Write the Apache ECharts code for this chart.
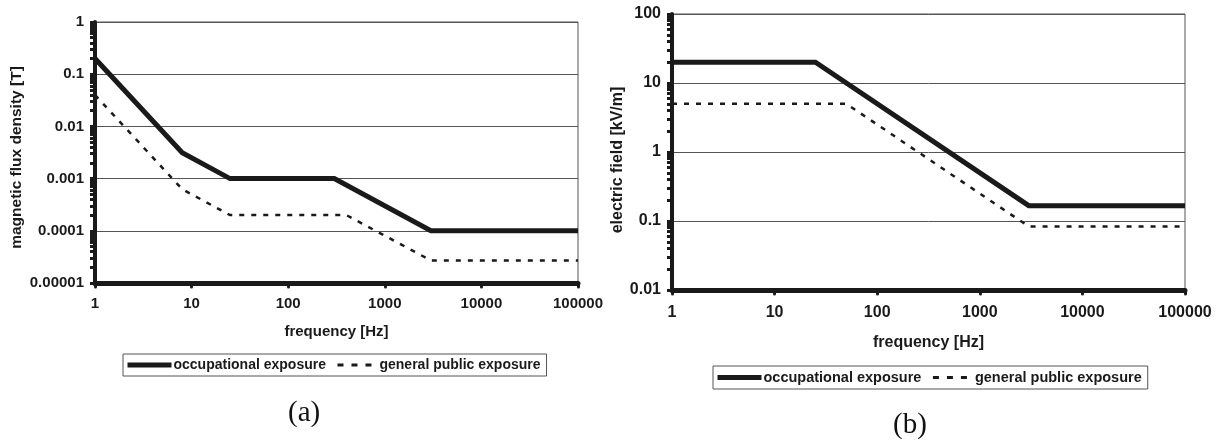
<!DOCTYPE html>
<html>
<head>
<meta charset="utf-8">
<script src="https://cdn.jsdelivr.net/npm/echarts@6/dist/echarts.min.js"></script>
<style>
html, body { margin: 0; padding: 0; background: #fff; }
#chart { width: 1217px; height: 441px; }
</style>
</head>
<body>
<div id="chart"></div>
<script>
// Tick labels
const frequencyTicks = ['1', '10', '100', '1000', '10000', '100000'];
const fluxTicks = ['0.00001', '0.0001', '0.001', '0.01', '0.1', '1'];
const fieldTicks = ['0.01', '0.1', '1', '10', '100'];

// (a) magnetic flux density [T] versus frequency [Hz]
const fluxOccFreq = [1, 8, 25, 300, 3000, 100000];
const fluxOccVal = [0.2, 0.003125, 0.001, 0.001, 0.0001, 0.0001];
const fluxPubFreq = [1, 8, 25, 400, 3000, 100000];
const fluxPubVal = [0.04, 0.000625, 0.0002, 0.0002, 0.000027, 0.000027];

// (b) electric field [kV/m] versus frequency [Hz]
const fieldOccFreq = [1, 25, 3000, 100000];
const fieldOccVal = [20, 20, 0.1667, 0.1667];
const fieldPubFreq = [1, 50, 3000, 100000];
const fieldPubVal = [5, 5, 0.0833, 0.0833];

const seriesNames = ['occupational exposure', 'general public exposure'];

const zip = (xs, ys) => xs.map((x, i) => [x, ys[i]]);
const labelFor = labels => v => {
  const hit = labels.find(l => Math.abs(Math.log10(Number(l)) - Math.log10(v)) < 1e-6);
  return hit === undefined ? '' : hit;
};

const FONT = 'Liberation Sans, Arial, sans-serif';
const INK = '#1a1a1a';
const SOLID = { color: INK, width: 5, cap: 'butt', join: 'miter' };
const DASHED = { color: INK, width: 2.5, type: [5, 7] };

function xAxisFor(grid, fontSize, margin, nameGap) {
  return {
    type: 'log', logBase: 10, gridIndex: grid,
    min: Number(frequencyTicks[0]), max: Number(frequencyTicks[frequencyTicks.length - 1]),
    name: 'frequency [Hz]', nameLocation: 'middle', nameGap: nameGap,
    nameTextStyle: { fontFamily: FONT, fontWeight: 'bold', fontSize: fontSize, color: INK },
    axisLine: { show: true, lineStyle: { color: INK, width: 5 } },
    axisTick: { show: true, length: 4, lineStyle: { color: INK, width: 3, cap: 'round' } },
    minorTick: { show: false },
    splitLine: { show: false },
    axisLabel: { margin: margin, fontFamily: FONT, fontWeight: 'bold', fontSize: fontSize, color: INK,
                 formatter: labelFor(frequencyTicks) }
  };
}

function yAxisFor(grid, labels, name, fontSize, nameSize, nameGap, nameShift) {
  return {
    type: 'log', logBase: 10, gridIndex: grid,
    min: Number(labels[0]), max: Number(labels[labels.length - 1]),
    name: name, nameLocation: 'middle', nameGap: nameGap, nameRotate: 90,
    nameTextStyle: { fontFamily: FONT, fontWeight: 'bold', fontSize: nameSize, color: INK,
                     padding: [0, nameShift, 0, 0] },
    axisLine: { show: true, lineStyle: { color: INK, width: 4 } },
    axisTick: { show: true, length: 5, lineStyle: { color: INK, width: 3 } },
    minorTick: { show: true, splitNumber: 9, length: 5, lineStyle: { color: INK, width: 3 } },
    splitLine: { show: true, lineStyle: { color: '#555', width: 1 } },
    axisLabel: { margin: 11, fontFamily: FONT, fontWeight: 'bold', fontSize: fontSize, color: INK,
                 formatter: labelFor(labels) }
  };
}

function lineSeries(name, xi, data, dashed) {
  return {
    name: name, type: 'line', xAxisIndex: xi, yAxisIndex: xi,
    data: data, symbol: 'none', silent: true, animation: false,
    color: INK,
    itemStyle: { color: INK },
    lineStyle: dashed ? DASHED : SOLID
  };
}

function legendAt(left, top, fontSize) {
  return {
    left: left, top: top, orient: 'horizontal',
    data: [
      { name: seriesNames[0], lineStyle: { color: INK, width: 5 } },
      { name: seriesNames[1], lineStyle: { color: INK, width: 3, type: [6, 8], dashOffset: -4 } }
    ],
    itemWidth: 44, itemHeight: 12, itemGap: 6,
    padding: [4, 6, 4, 2],
    borderColor: '#555', borderWidth: 1, borderRadius: 0,
    selectedMode: false,
    itemStyle: { opacity: 0 },
    textStyle: { fontFamily: FONT, fontWeight: 'bold', fontSize: fontSize, color: INK, padding: [0, 0, 0, -3] }
  };
}

const chart = echarts.init(document.getElementById('chart'), null, { renderer: 'canvas' });
chart.setOption({
  animation: false,
  backgroundColor: '#fff',
  grid: [
    { left: 95, top: 22, width: 483, height: 261, show: true, borderColor: '#555', borderWidth: 1 },
    { left: 672, top: 14, width: 513, height: 276, show: true, borderColor: '#555', borderWidth: 1 }
  ],
  xAxis: [xAxisFor(0, 15, 13, 41), xAxisFor(1, 16, 15, 45)],
  yAxis: [
    yAxisFor(0, fluxTicks, 'magnetic flux density [T]', 15, 15.5, 70, 10),
    yAxisFor(1, fieldTicks, 'electric field [kV/m]', 16, 16, 46, 16)
  ],
  legend: [legendAt(123, 354, 14), legendAt(713, 366, 14.5)],
  series: [
    lineSeries(seriesNames[0], 0, zip(fluxOccFreq, fluxOccVal), false),
    lineSeries(seriesNames[1], 0, zip(fluxPubFreq, fluxPubVal), true),
    lineSeries(seriesNames[0], 1, zip(fieldOccFreq, fieldOccVal), false),
    lineSeries(seriesNames[1], 1, zip(fieldPubFreq, fieldPubVal), true)
  ],
  graphic: [
    { type: 'text', left: 288, top: 399, style: { text: '(a)', font: '29px "Liberation Serif", serif', fill: '#111' } },
    { type: 'text', left: 893, top: 411, style: { text: '(b)', font: '29px "Liberation Serif", serif', fill: '#111' } }
  ]
});
</script>
</body>
</html>
